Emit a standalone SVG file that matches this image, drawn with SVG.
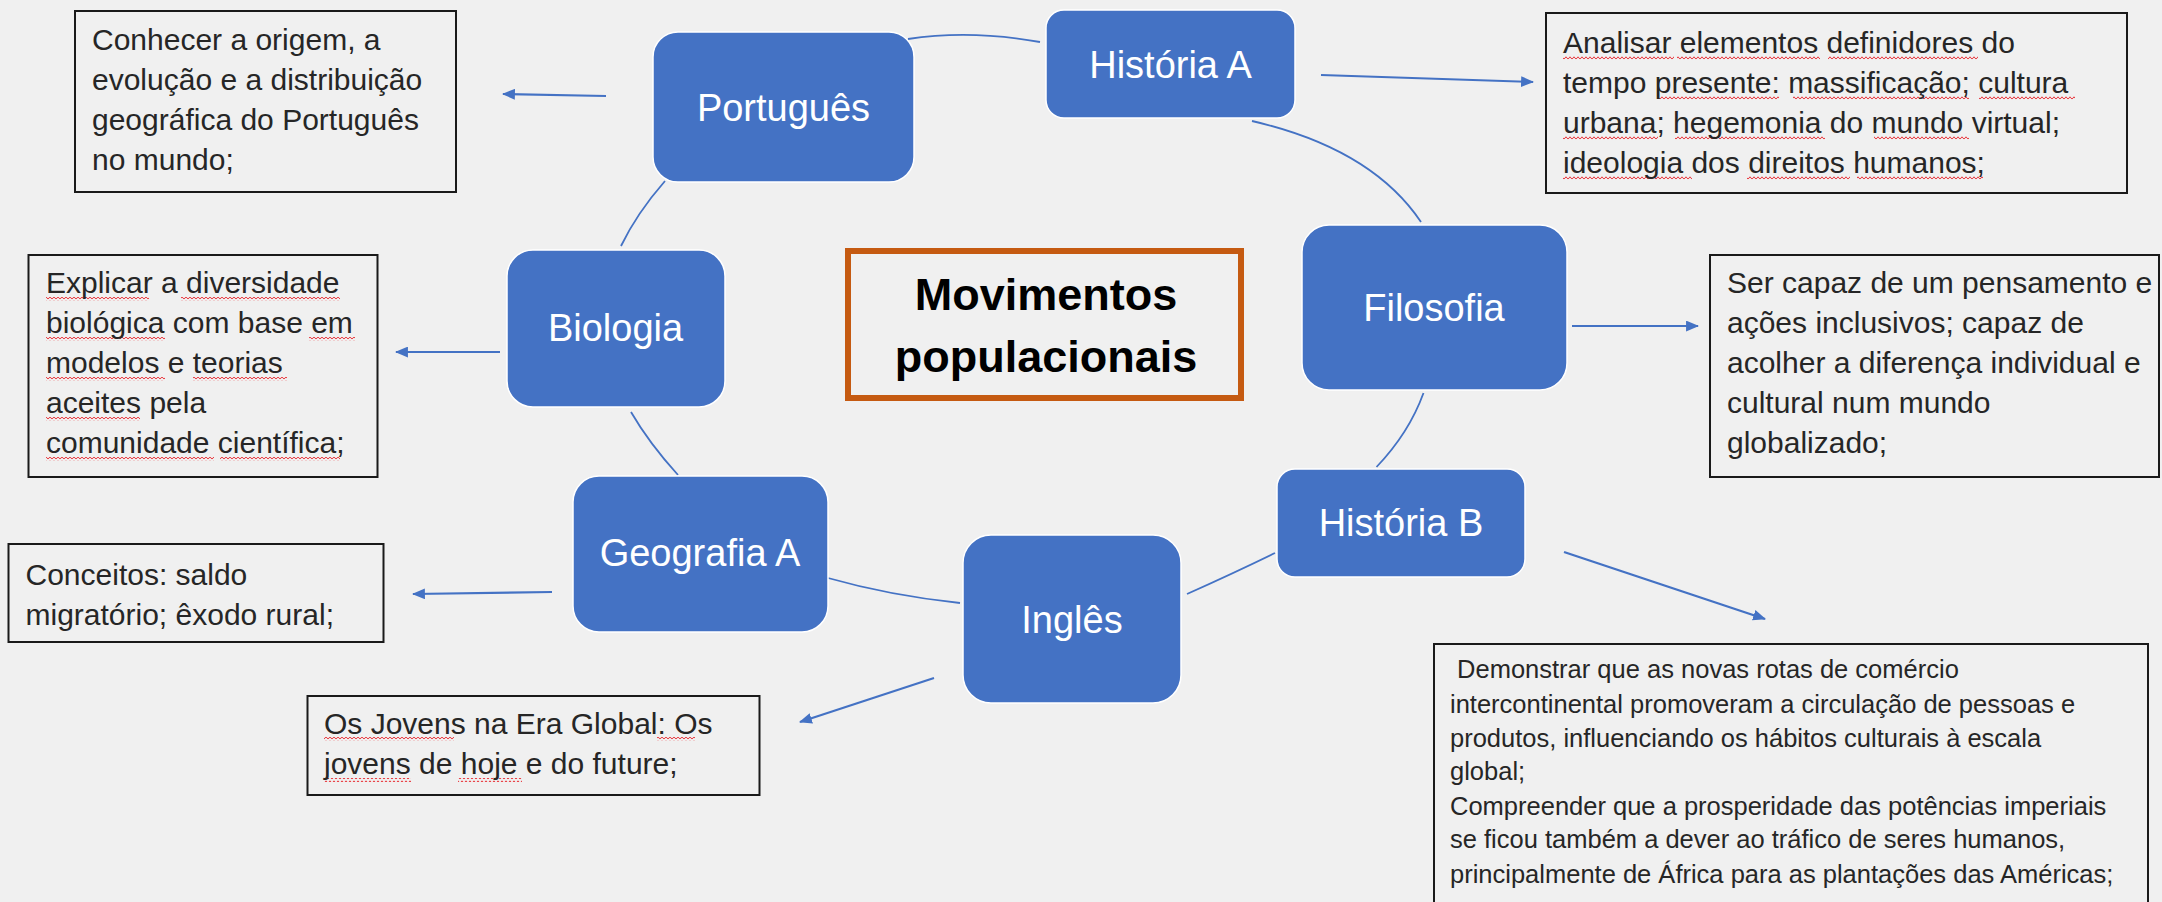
<svg xmlns="http://www.w3.org/2000/svg" width="2162" height="902" viewBox="0 0 2162 902">
<style>
.node{fill:#4472C4;stroke:#ffffff;stroke-width:1.5}
.nt{font-family:"Liberation Sans",Arial,sans-serif;font-size:38px;fill:#ffffff;text-anchor:middle}
.box{fill:none;stroke:#1a1a1a;stroke-width:2}
.bt{font-family:"Liberation Sans",Arial,sans-serif;font-size:30px;fill:#262626}
.bt2{font-family:"Liberation Sans",Arial,sans-serif;font-size:25.5px;fill:#262626}
.arc{fill:none;stroke:#4472C4;stroke-width:1.8}
.arr{fill:none;stroke:#4472C4;stroke-width:2.2;marker-end:url(#ah)}
.sq{fill:url(#wave)}
.title{font-family:"Liberation Sans",Arial,sans-serif;font-size:45px;font-weight:bold;fill:#000;text-anchor:middle}
</style>
<defs>
<marker id="ah" viewBox="0 0 12 10" refX="11" refY="5" markerWidth="13" markerHeight="11" markerUnits="userSpaceOnUse" orient="auto">
<path d="M0,0 L12,5 L0,10 Z" fill="#4472C4"/>
</marker>
<pattern id="wave" x="0" y="0" width="4" height="4" patternUnits="userSpaceOnUse">
<path d="M0,3.2 L2,0.8 L4,3.2" fill="none" stroke="#e8353b" stroke-width="1"/>
</pattern>
</defs>
<rect width="2162" height="902" fill="#f0f0f0"/>

<g id="connectors">
<path class="arc" d="M908,39 Q970,29.5 1040,42"/>
<path class="arc" d="M1252,121 Q1371.5,148.5 1421,222"/>
<path class="arc" d="M1423.5,393 Q1409,433 1376.5,467"/>
<path class="arc" d="M1275,553 Q1235,572.5 1187,594"/>
<path class="arc" d="M960,603 Q889.6,595.5 828,578"/>
<path class="arc" d="M678,475 Q649,443 631,412"/>
<path class="arc" d="M621,246 Q637,213 665,181"/>
<path class="arr" d="M606,96 L503,94"/>
<path class="arr" d="M1321,75 L1533,82"/>
<path class="arr" d="M1572,326 L1698,326"/>
<path class="arr" d="M500,352 L396,352"/>
<path class="arr" d="M552,592 L413,594"/>
<path class="arr" d="M934,678 L800,722"/>
<path class="arr" d="M1564,552 L1765,619"/>
</g>

<g id="center">
<rect x="848" y="251" width="393" height="147" fill="none" stroke="#C55A11" stroke-width="6"/>
<text class="title" x="1046" y="310">Movimentos</text>
<text class="title" x="1046" y="372">populacionais</text>
</g>

<g id="portugues">
<rect class="node" x="653" y="32" width="261" height="150" rx="25"/>
<text class="nt" x="783.5" y="120.5">Português</text>
</g>
<g id="historia-a">
<rect class="node" x="1046" y="10" width="249" height="108" rx="18"/>
<text class="nt" x="1170.5" y="77.5">História A</text>
</g>
<g id="filosofia">
<rect class="node" x="1302" y="225" width="265" height="165" rx="27"/>
<text class="nt" x="1434" y="321">Filosofia</text>
</g>
<g id="historia-b">
<rect class="node" x="1277" y="469" width="248" height="108" rx="18"/>
<text class="nt" x="1401" y="535.5">História B</text>
</g>
<g id="ingles">
<rect class="node" x="963" y="535" width="218" height="168" rx="28"/>
<text class="nt" x="1072" y="632.5">Inglês</text>
</g>
<g id="geografia-a">
<rect class="node" x="573" y="476" width="255" height="156" rx="26"/>
<text class="nt" x="700" y="566">Geografia A</text>
</g>
<g id="biologia">
<rect class="node" x="507" y="250" width="218" height="157" rx="26"/>
<text class="nt" x="615.5" y="341">Biologia</text>
</g>

<g id="box-portugues">
<rect class="box" x="75" y="11" width="381" height="181"/>
<text class="bt" x="92"><tspan x="92" y="50">Conhecer a origem, a</tspan><tspan x="92" y="90">evolução e a distribuição</tspan><tspan x="92" y="130">geográfica do Português</tspan><tspan x="92" y="170">no mundo;</tspan></text>
</g>

<g id="box-historia-a">
<rect class="box" x="1546" y="13" width="581" height="180"/>
<rect class="sq" x="1563" y="56" width="111" height="4"/>
<rect class="sq" x="1677" y="56" width="143" height="4"/>
<rect class="sq" x="1828" y="56" width="150" height="4"/>
<rect class="sq" x="1658" y="96" width="121" height="4"/>
<rect class="sq" x="1793" y="96" width="176" height="4"/>
<rect class="sq" x="1979" y="96" width="96" height="4"/>
<rect class="sq" x="1563" y="136" width="95" height="4"/>
<rect class="sq" x="1675" y="136" width="150" height="4"/>
<rect class="sq" x="1874" y="136" width="95" height="4"/>
<rect class="sq" x="1563" y="176" width="129" height="4"/>
<rect class="sq" x="1747" y="176" width="103" height="4"/>
<rect class="sq" x="1857" y="176" width="126" height="4"/>
<text class="bt"><tspan x="1563" y="53">Analisar elementos definidores do</tspan><tspan x="1563" y="93">tempo presente: massificação; cultura</tspan><tspan x="1563" y="133">urbana; hegemonia do mundo virtual;</tspan><tspan x="1563" y="173">ideologia dos direitos humanos;</tspan></text>
</g>

<g id="box-filosofia">
<rect class="box" x="1710" y="255" width="449" height="222"/>
<text class="bt"><tspan x="1727" y="293">Ser capaz de um pensamento e</tspan><tspan x="1727" y="333">ações inclusivos; capaz de</tspan><tspan x="1727" y="373">acolher a diferença individual e</tspan><tspan x="1727" y="413">cultural num mundo</tspan><tspan x="1727" y="453">globalizado;</tspan></text>
</g>

<g id="box-biologia">
<rect class="box" x="28.5" y="255" width="349" height="222"/>
<rect class="sq" x="46" y="297" width="103" height="4"/>
<rect class="sq" x="181" y="297" width="159" height="4"/>
<rect class="sq" x="46" y="337" width="119" height="4"/>
<rect class="sq" x="309" y="337" width="46" height="4"/>
<rect class="sq" x="46" y="377" width="119" height="4"/>
<rect class="sq" x="193" y="377" width="94" height="4"/>
<rect class="sq" x="46" y="417" width="94" height="4"/>
<rect class="sq" x="46" y="457" width="168" height="4"/>
<rect class="sq" x="220" y="457" width="120" height="4"/>
<text class="bt"><tspan x="46" y="293">Explicar a diversidade</tspan><tspan x="46" y="333">biológica com base em</tspan><tspan x="46" y="373">modelos e teorias</tspan><tspan x="46" y="413">aceites pela</tspan><tspan x="46" y="453">comunidade científica;</tspan></text>
</g>

<g id="box-geografia">
<rect class="box" x="8.5" y="544" width="375" height="98"/>
<text class="bt"><tspan x="25.5" y="585">Conceitos: saldo</tspan><tspan x="25.5" y="625">migratório; êxodo rural;</tspan></text>
</g>

<g id="box-ingles">
<rect class="box" x="307.5" y="696" width="452" height="99"/>
<rect class="sq" x="324" y="737" width="130" height="4"/>
<rect class="sq" x="657" y="737" width="38" height="4"/>
<rect class="sq" x="324" y="778" width="87" height="4"/>
<rect class="sq" x="458" y="778" width="64" height="4"/>
<text class="bt"><tspan x="324" y="733.5">Os Jovens na Era Global: Os</tspan><tspan x="324" y="773.5">jovens de hoje e do future;</tspan></text>
</g>

<g id="box-historia-b">
<rect class="box" x="1434" y="644" width="714" height="270"/>
<text class="bt2" xml:space="preserve"><tspan x="1450" y="678"> Demonstrar que as novas rotas de comércio</tspan><tspan x="1450" y="713">intercontinental promoveram a circulação de pessoas e</tspan><tspan x="1450" y="747">produtos, influenciando os hábitos culturais à escala</tspan><tspan x="1450" y="780">global;</tspan><tspan x="1450" y="815">Compreender que a prosperidade das potências imperiais</tspan><tspan x="1450" y="848">se ficou também a dever ao tráfico de seres humanos,</tspan><tspan x="1450" y="883">principalmente de África para as plantações das Américas;</tspan></text>
</g>
</svg>
